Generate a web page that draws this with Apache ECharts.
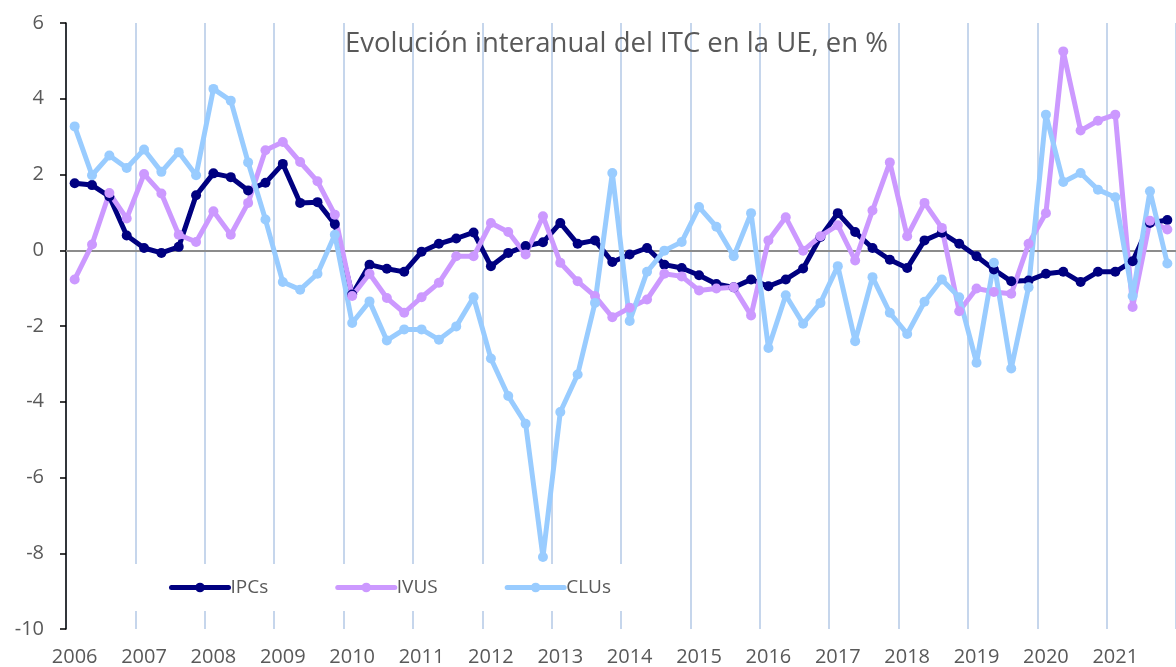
<!DOCTYPE html>
<html>
<head>
<meta charset="utf-8">
<script src="https://cdn.jsdelivr.net/npm/echarts@6/dist/echarts.min.js"></script>
<style>
    html, body { margin: 0; padding: 0; background: #fff; }
    #chart { width: 1176px; height: 667px; }
</style>
</head>
<body>
<div id="chart"></div>
<script>
// años del eje (cada uno con cuatro trimestres)
const years = ['2006', '2007', '2008', '2009', '2010', '2011', '2012', '2013',
    '2014', '2015', '2016', '2017', '2018', '2019', '2020', '2021']
const quarters = ['T1', 'T2', 'T3', 'T4']
const yTicks = [-10, -8, -6, -4, -2, 0, 2, 4, 6]

const ipcs = [
    1.77, 1.72, 1.42, 0.39, 0.06, -0.07, 0.09, 1.45, 2.03, 1.93, 1.58, 1.78, 2.28, 1.25, 1.27, 0.69,
    -1.17, -0.38, -0.49, -0.57, -0.04, 0.17, 0.31, 0.47, -0.42, -0.07, 0.11, 0.21, 0.72, 0.17, 0.26, -0.31,
    -0.11, 0.06, -0.38, -0.47, -0.66, -0.89, -0.98, -0.77, -0.95, -0.77, -0.48, 0.35, 0.98, 0.48, 0.06, -0.25,
    -0.47, 0.26, 0.46, 0.17, -0.16, -0.51, -0.82, -0.8, -0.62, -0.57, -0.84, -0.57, -0.57, -0.29, 0.72, 0.8
]
const ivus = [
    -0.77, 0.15, 1.51, 0.84, 2.01, 1.5, 0.41, 0.22, 1.03, 0.41, 1.25, 2.64, 2.86, 2.33, 1.82, 0.94,
    -1.21, -0.62, -1.26, -1.65, -1.24, -0.86, -0.16, -0.16, 0.72, 0.48, -0.11, 0.9, -0.33, -0.82, -1.21, -1.77,
    -1.52, -1.3, -0.62, -0.69, -1.06, -1.01, -0.98, -1.72, 0.26, 0.87, -0.01, 0.37, 0.66, -0.27, 1.05, 2.32,
    0.37, 1.25, 0.59, -1.61, -1.01, -1.1, -1.15, 0.17, 0.98, 5.25, 3.16, 3.42, 3.58, -1.5, 0.78, 0.55
]
const clus = [
    3.27, 1.98, 2.5, 2.17, 2.66, 2.07, 2.59, 1.98, 4.26, 3.95, 2.32, 0.81, -0.84, -1.04, -0.62, 0.41,
    -1.92, -1.35, -2.38, -2.09, -2.09, -2.36, -2.01, -1.24, -2.86, -3.85, -4.58, -8.1, -4.27, -3.28, -1.39, 2.04,
    -1.87, -0.57, -0.01, 0.22, 1.14, 0.62, -0.16, 0.98, -2.58, -1.19, -1.94, -1.39, -0.42, -2.4, -0.71, -1.65,
    -2.21, -1.36, -0.77, -1.24, -2.97, -0.33, -3.12, -0.98, 3.58, 1.8, 2.04, 1.6, 1.4, -1.21, 1.56, -0.35
]

const categories = years.flatMap(y => quarters.map(q => y + ' ' + q))
const font = "'Open Sans', 'Noto Sans', sans-serif"
const textColor = '#595959'

function lineSeries(name, data, color) {
    return {
        name,
        type: 'line',
        data,
        symbol: 'circle',
        symbolSize: 10,
        showSymbol: true,
        smooth: false,
        itemStyle: { color, borderWidth: 0 },
        lineStyle: { color, width: 5, cap: 'round', join: 'round' },
        emphasis: { disabled: true },
    }
}

const chart = echarts.init(document.getElementById('chart'), null, { renderer: 'canvas' })
const option = {
    animation: false,
    backgroundColor: '#fff',
    title: {
        text: 'Evolución interanual del ITC en la UE, en %',
        left: 340,
        top: 25,
        textStyle: {
            fontFamily: font,
            fontSize: 27.5,
            fontWeight: 'normal',
            color: textColor,
        },
    },
    legend: {
        left: 128,
        top: 564,
        padding: [14, 26, 14, 41],
        backgroundColor: '#fff',
        itemWidth: 57,
        itemHeight: 12,
        itemGap: 67,
        lineStyle: { width: 5, cap: 'round' },
        textStyle: { fontFamily: font, fontSize: 19, color: textColor, padding: [0, 0, 0, -3] },
        data: ['IPCs', 'IVUS', 'CLUs'],
    },
    grid: {
        left: 66,
        top: 23,
        width: 1122,
        bottom: 38,
        containLabel: false,
    },
    xAxis: [
        {
            type: 'category',
            data: categories,
            boundaryGap: true,
            position: 'bottom',
            axisLine: { show: false, onZero: false },
            axisTick: { show: false },
            axisLabel: {
                interval: 3,
                margin: 18,
                fontFamily: font,
                fontSize: 20,
                color: textColor,
                formatter: v => v.split(' ')[0],
            },
            splitLine: {
                show: true,
                interval: 3,
                lineStyle: { color: '#c6d6ec', width: 2 },
            },
        },
        {
            type: 'category',
            data: categories,
            boundaryGap: true,
            axisLine: { show: true, onZero: true, lineStyle: { color: '#8c8c8c', width: 2 } },
            axisTick: { show: false },
            axisLabel: { show: false },
            splitLine: { show: false },
        },
    ],
    yAxis: {
        type: 'value',
        min: yTicks[0],
        max: yTicks[yTicks.length - 1],
        interval: 2,
        axisLine: { show: true, lineStyle: { color: '#000', width: 1.5 } },
        axisTick: { show: true, length: 6, lineStyle: { color: '#000', width: 1.5 } },
        axisLabel: {
            margin: 22,
            fontFamily: font,
            fontSize: 20,
            color: textColor,
        },
        splitLine: { show: false },
    },
    series: [
        lineSeries('IPCs', ipcs, '#000080'),
        lineSeries('IVUS', ivus, '#cc99ff'),
        lineSeries('CLUs', clus, '#99ccff'),
    ],
}
chart.setOption(option)
</script>
</body>
</html>
